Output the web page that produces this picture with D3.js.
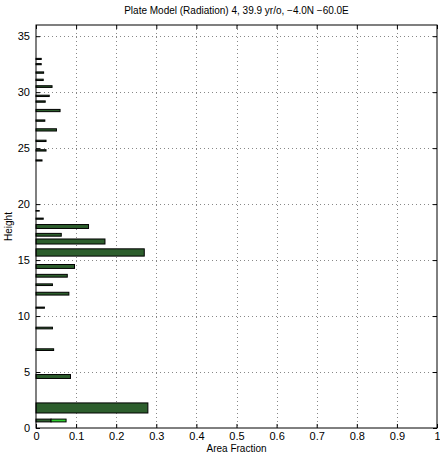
<!DOCTYPE html>
<html lang="en">
<head>
    <meta charset="UTF-8">
    <script src="https://cdn.jsdelivr.net/npm/d3@7"></script>
    <title>Plate Model (Radiation) 4</title>
    <style>
        html, body {
            margin: 0px;
            padding: 0px;
            background-color: #ffffff;
            font-family: "Liberation Sans", Arial, sans-serif;
        }
        svg { display: block; }
        .grid line { stroke: #888; stroke-dasharray: 1,3; stroke-width: 1; }
    </style>
</head>
<body>
    <div id="chart"></div>

    <script>
        // layer heights, area fractions, layer thickness (height units)
        let heights = [0.67, 1.79, 4.6, 7.0, 8.93, 10.75, 12.0, 12.8, 13.6, 14.43, 15.68, 16.66, 17.26, 18.0, 18.7, 19.4,
            23.9, 24.8, 25.65, 26.63, 27.46, 28.36, 29.16, 29.67, 30.5, 31.1, 31.75, 32.5, 32.97];
        let fractions = [0.0375, 0.279, 0.086, 0.044, 0.041, 0.021, 0.082, 0.041, 0.078, 0.096, 0.27, 0.172, 0.063, 0.131, 0.018, 0.008,
            0.015, 0.025, 0.025, 0.051, 0.022, 0.06, 0.023, 0.033, 0.04, 0.018, 0.019, 0.013, 0.013];
        let thickness = [0.25, 0.9, 0.35, 0.15, 0.15, 0.1, 0.25, 0.15, 0.25, 0.35, 0.65, 0.45, 0.25, 0.35, 0.1, 0.05,
            0.1, 0.12, 0.12, 0.2, 0.12, 0.2, 0.12, 0.12, 0.15, 0.12, 0.12, 0.1, 0.1];
        // second (bright) component, only in the lowest layer
        let extra = [0.0375];
        let extraIndex = [0];

        let xTicks = [0, 0.1, 0.2, 0.3, 0.4, 0.5, 0.6, 0.7, 0.8, 0.9, 1];
        let yTicks = [0, 5, 10, 15, 20, 25, 30, 35];

        let width = 440;
        let height = 453;
        let margin = { top: 25, right: 3, bottom: 25, left: 36 };

        let svg = d3.select('#chart').append('svg').attr('width', width).attr('height', height);

        let x = d3.scaleLinear().domain([0, 1]).range([margin.left, width - margin.right]);
        let y = d3.scaleLinear().domain([0, 36]).range([height - margin.bottom, margin.top]);

        // grid
        let grid = svg.append('g').attr('class', 'grid');
        grid.selectAll('.gx').data(xTicks.slice(1, -1)).join('line')
            .attr('x1', d => Math.round(x(d)) + 0.5).attr('x2', d => Math.round(x(d)) + 0.5)
            .attr('y1', y(36)).attr('y2', y(0));
        grid.selectAll('.gy').data(yTicks.slice(1)).join('line')
            .attr('class', 'gy')
            .attr('x1', x(0)).attr('x2', x(1))
            .attr('y1', d => Math.round(y(d)) + 0.5).attr('y2', d => Math.round(y(d)) + 0.5);

        // bars
        let bars = heights.map((h, i) => ({ h: h, v: fractions[i], t: thickness[i] }));
        svg.append('g').selectAll('rect').data(bars).join('rect')
            .attr('x', x(0))
            .attr('y', d => y(d.h + d.t / 2))
            .attr('width', d => x(d.v) - x(0))
            .attr('height', d => y(d.h - d.t / 2) - y(d.h + d.t / 2))
            .attr('fill', '#2d5e2d')
            .attr('stroke', '#000')
            .attr('stroke-width', 1);

        svg.append('g').selectAll('rect').data(extraIndex).join('rect')
            .attr('x', i => x(fractions[i]))
            .attr('y', i => y(heights[i] + thickness[i] / 2))
            .attr('width', (i, k) => x(extra[k]) - x(0))
            .attr('height', i => y(heights[i] - thickness[i] / 2) - y(heights[i] + thickness[i] / 2))
            .attr('fill', '#2ecc2e')
            .attr('stroke', '#000')
            .attr('stroke-width', 1);

        // axes
        let fmt = d => d === 0 || d === 1 ? String(d) : d3.format('.1f')(d);
        let tickStyle = g => {
            g.select('.domain').remove();
            g.selectAll('text').attr('font-size', 11).attr('font-family', '"Liberation Sans", Arial, sans-serif').attr('fill', '#000');
            g.selectAll('line').attr('stroke', '#000');
        };
        svg.append('g').attr('transform', `translate(0,${y(0)})`)
            .call(d3.axisBottom(x).tickValues(xTicks).tickFormat(fmt).tickSizeInner(-4).tickPadding(4))
            .call(tickStyle);
        svg.append('g').attr('transform', `translate(0,${y(36)})`)
            .call(d3.axisTop(x).tickValues(xTicks).tickFormat('').tickSizeInner(-4))
            .call(tickStyle);
        svg.append('g').attr('transform', `translate(${x(0)},0)`)
            .call(d3.axisLeft(y).tickValues(yTicks).tickSizeInner(-4).tickPadding(6))
            .call(tickStyle);
        svg.append('g').attr('transform', `translate(${x(1)},0)`)
            .call(d3.axisRight(y).tickValues(yTicks).tickFormat('').tickSizeInner(-4))
            .call(tickStyle);

        svg.append('rect')
            .attr('x', x(0)).attr('y', y(36))
            .attr('width', x(1) - x(0)).attr('height', y(0) - y(36))
            .attr('fill', 'none').attr('stroke', '#000').attr('stroke-width', 1);

        // labels
        svg.append('text')
            .attr('x', (x(0) + x(1)) / 2).attr('y', 14)
            .attr('text-anchor', 'middle').attr('font-size', 10)
            .text('Plate Model (Radiation) 4, 39.9 yr/o, \u22124.0N \u221260.0E');
        svg.append('text')
            .attr('x', (x(0) + x(1)) / 2).attr('y', 452)
            .attr('text-anchor', 'middle').attr('font-size', 10)
            .text('Area Fraction');
        svg.append('text')
            .attr('transform', `translate(12,${(y(0) + y(36)) / 2}) rotate(-90)`)
            .attr('text-anchor', 'middle').attr('font-size', 10)
            .text('Height');
    </script>
</body>
</html>
